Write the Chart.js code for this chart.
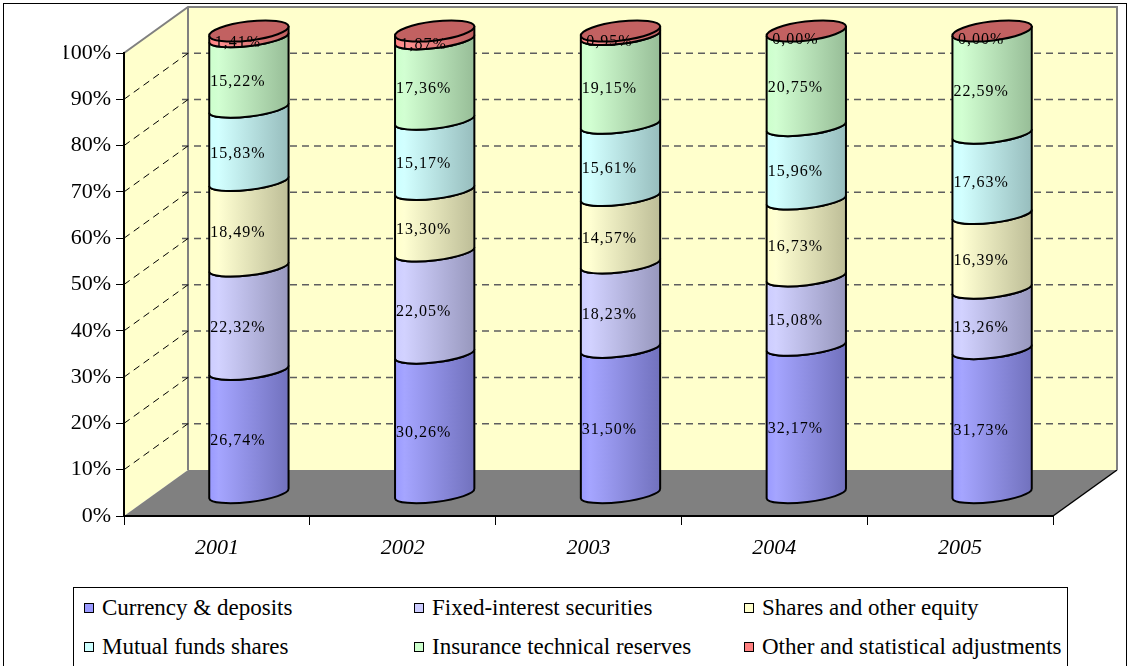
<!DOCTYPE html>
<html>
<head>
<meta charset="utf-8">
<script src="https://cdn.jsdelivr.net/npm/chart.js@4.4.1/dist/chart.umd.min.js"></script>
<style>
html, body { margin: 0; padding: 0; background: #fff; }
#wrap { position: relative; width: 1130px; height: 666px; overflow: hidden; font-family: "Liberation Serif", "Times New Roman", serif; }
#frame { position: absolute; left: 3px; top: 3px; width: 1124px; height: 720px; border: 1px solid #000; box-sizing: border-box; }
#chart { position: absolute; left: 0; top: 0; }
#legend { position: absolute; left: 73px; top: 587px; width: 995px; height: 100px; border: 1px solid #000; box-sizing: border-box;
  display: grid; grid-template-columns: 330px 330px 330px; grid-auto-rows: 39px; padding-left: 10px; background: #fff; }
#legend div { display: flex; align-items: center; font-size: 23px; white-space: nowrap; letter-spacing: 0; }
#legend span { display: inline-block; width: 8px; height: 8px; border: 1px solid #000; margin-right: 8px; flex: none; }
</style>
</head>
<body>
<div id="wrap">
  <div id="frame"></div>
  <canvas id="chart" width="1130" height="666"></canvas>
  <div id="legend"></div>
</div>
<script>
var years = ["2001", "2002", "2003", "2004", "2005"];
var seriesNames = ["Currency & deposits", "Fixed-interest securities", "Shares and other equity",
  "Mutual funds shares", "Insurance technical reserves", "Other and statistical adjustments"];
var currency = [26.74, 30.26, 31.50, 32.17, 31.73];
var fixedInterest = [22.32, 22.05, 18.23, 15.08, 13.26];
var shares = [18.49, 13.30, 14.57, 16.73, 16.39];
var mutualFunds = [15.83, 15.17, 15.61, 15.96, 17.63];
var insurance = [15.22, 17.36, 19.15, 20.75, 22.59];
var other = [1.41, 1.87, 0.95, 0.00, 0.00];
var yTicks = [0, 10, 20, 30, 40, 50, 60, 70, 80, 90, 100];
var colors = ["#9999FF", "#CCCCFF", "#FFFFCC", "#CCFFFF", "#CCFFCC", "#FF8080"];

var values = [currency, fixedInterest, shares, mutualFunds, insurance, other];

// 100% stacked: each year is scaled to its own total
var totals = years.map(function (y, k) {
  return values.reduce(function (s, arr) { return s + arr[k]; }, 0);
});
var shareData = values.map(function (arr) {
  return arr.map(function (v, k) { return v / totals[k] * 100; });
});

// depth of the box and where the cylinders sit in it
var DX = 64, DY = -46;
var BX = 32, BY = -22;

function shade(hex, f) {
  var n = parseInt(hex.slice(1), 16);
  var r = (n >> 16) & 255, g = (n >> 8) & 255, b = n & 255;
  if (f > 1) {
    var t = f - 1;
    r = r + (255 - r) * t; g = g + (255 - g) * t; b = b + (255 - b) * t;
  } else {
    r *= f; g *= f; b *= f;
  }
  return "rgb(" + Math.round(r) + "," + Math.round(g) + "," + Math.round(b) + ")";
}

var box3d = {
  id: "box3d",
  beforeDraw: function (chart) {
    var ctx = chart.ctx, a = chart.chartArea, ys = chart.scales.y;
    var top = ys.getPixelForValue(100), bot = ys.getPixelForValue(0);
    ctx.save();
    // back wall
    ctx.fillStyle = "#FFFFCC";
    ctx.fillRect(a.left + DX, top + DY, a.right - a.left, bot - top);
    // side wall
    ctx.beginPath();
    ctx.moveTo(a.left, top); ctx.lineTo(a.left + DX, top + DY);
    ctx.lineTo(a.left + DX, bot + DY); ctx.lineTo(a.left, bot);
    ctx.closePath(); ctx.fill();
    // floor
    ctx.fillStyle = "#808080";
    ctx.beginPath();
    ctx.moveTo(a.left, bot); ctx.lineTo(a.left + DX, bot + DY);
    ctx.lineTo(a.right + DX, bot + DY); ctx.lineTo(a.right, bot);
    ctx.closePath(); ctx.fill();
    ctx.strokeStyle = "#000"; ctx.lineWidth = 1.5;
    ctx.beginPath(); ctx.moveTo(a.right, bot); ctx.lineTo(a.right + DX, bot + DY); ctx.stroke();
    // wall borders
    ctx.strokeStyle = "#808080"; ctx.lineWidth = 2;
    ctx.beginPath();
    ctx.moveTo(a.left, top); ctx.lineTo(a.left + DX, top + DY);
    ctx.lineTo(a.right + DX, top + DY); ctx.lineTo(a.right + DX, bot + DY);
    ctx.moveTo(a.left + DX, top + DY); ctx.lineTo(a.left + DX, bot + DY);
    ctx.stroke();
    // grid lines
    ctx.setLineDash([7, 5]);
    yTicks.forEach(function (v) {
      if (v === 0 || v === 100) return;
      var yp = ys.getPixelForValue(v);
      ctx.strokeStyle = "#5e5e5e"; ctx.lineWidth = 1.5;
      ctx.beginPath(); ctx.moveTo(a.left + DX - 6, yp + DY); ctx.lineTo(a.right + DX, yp + DY); ctx.stroke();
      ctx.strokeStyle = "#000"; ctx.lineWidth = 1;
      ctx.beginPath(); ctx.moveTo(a.left, yp); ctx.lineTo(a.left + DX, yp + DY); ctx.stroke();
    });
    ctx.restore();
  },
  beforeDatasetDraw: function () { return false; },
  afterDatasetsDraw: function (chart) {
    var ctx = chart.ctx;
    var n = chart.data.datasets.length;
    var ry = 8.5, rot = -0.12;
    ctx.save();
    for (var j = 0; j < years.length; j++) {
      var cx, rx, topY;
      for (var i = 0; i < n; i++) {
        var el = chart.getDatasetMeta(i).data[j];
        var p = el.getProps(["x", "y", "base", "width"], true);
        cx = p.x + BX; rx = p.width / 2;
        var yt = Math.min(p.y, p.base) + BY, yb = Math.max(p.y, p.base) + BY;
        topY = yt;
        var g = ctx.createLinearGradient(cx - rx, 0, cx + rx, 0);
        g.addColorStop(0, colors[i]);
        g.addColorStop(0.12, shade(colors[i], 1.12));
        g.addColorStop(1, shade(colors[i], 0.74));
        ctx.beginPath();
        ctx.ellipse(cx, yt, rx, ry, rot, Math.PI, 0, true);
        ctx.ellipse(cx, yb, rx, ry, rot, 0, Math.PI, false);
        ctx.closePath();
        ctx.fillStyle = g; ctx.fill();
        ctx.strokeStyle = "#000"; ctx.lineWidth = 2; ctx.stroke();
      }
      // cap
      ctx.beginPath();
      ctx.ellipse(cx, topY, rx, ry + 1, rot, 0, Math.PI * 2);
      ctx.fillStyle = shade(colors[n - 1], 0.76); ctx.fill();
      ctx.strokeStyle = "#000"; ctx.lineWidth = 2; ctx.stroke();
    }
    // value labels
    ctx.fillStyle = "#000";
    ctx.font = '16px "Liberation Serif"';
    ctx.textAlign = "center"; ctx.textBaseline = "middle";
    if ("letterSpacing" in ctx) ctx.letterSpacing = "1px";
    for (var i2 = 0; i2 < n; i2++) {
      chart.getDatasetMeta(i2).data.forEach(function (el, k) {
        var p = el.getProps(["x", "y", "base"], true);
        var txt = values[i2][k].toFixed(2).replace(".", ",") + "%";
        ctx.fillText(txt, p.x + BX - 11, (p.y + p.base) / 2 + BY + 9);
      });
    }
    ctx.restore();
  }
};

var config = {
  type: "bar",
  data: {
    labels: years,
    datasets: seriesNames.map(function (name, i) {
      return { label: name, data: shareData[i], backgroundColor: colors[i],
        barPercentage: 0.86, categoryPercentage: 0.5 };
    })
  },
  options: {
    responsive: false,
    animation: false,
    devicePixelRatio: 1,
    layout: { padding: { left: 64, right: 77, top: 53, bottom: 90 } },
    plugins: { legend: { display: false }, tooltip: { enabled: false } },
    scales: {
      x: {
        stacked: true,
        afterFit: function (s) { s.height = 60; },
        grid: { offset: true, drawOnChartArea: false, tickLength: 9, color: "#000", lineWidth: 1 },
        border: { color: "#000", width: 2 },
        ticks: { color: "#000", padding: 10, font: { family: "Liberation Serif", size: 22, style: "italic" } }
      },
      y: {
        stacked: true, min: 0, max: 100,
        afterFit: function (s) { s.width = 60; },
        afterBuildTicks: function (s) { s.ticks = yTicks.map(function (v) { return { value: v }; }); },
        grid: { drawOnChartArea: false, tickLength: 8, color: "#000", lineWidth: 1 },
        border: { color: "#000", width: 2 },
        ticks: { color: "#000", padding: 5, font: { family: "Liberation Serif", size: 22 },
          callback: function (v) { return v + "%"; } }
      }
    }
  },
  plugins: [box3d]
};

var myChart = new Chart(document.getElementById("chart"), config);

var legend = document.getElementById("legend");
seriesNames.forEach(function (name, i) {
  var d = document.createElement("div");
  var s = document.createElement("span");
  s.style.background = colors[i];
  d.appendChild(s);
  d.appendChild(document.createTextNode(name));
  legend.appendChild(d);
});
</script>
</body>
</html>
